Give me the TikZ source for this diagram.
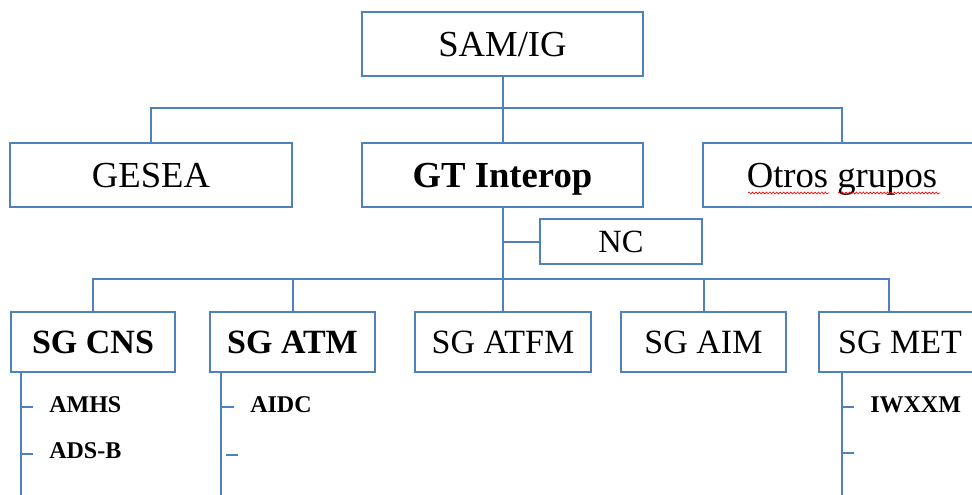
\documentclass[tikz,border=0pt]{standalone}
\usepackage{fontspec}
\setmainfont{Liberation Serif}
\usetikzlibrary{decorations.pathmorphing}
\definecolor{boxblue}{HTML}{4F81BD}

\begin{document}
\begin{tikzpicture}[x=0.75pt, y=-0.75pt,
    box/.style={draw=boxblue, line width=1.5pt, inner sep=0pt, text depth=0pt},
    topbox/.style={box, minimum height=48pt, text height=18.2pt,
      font=\fontsize{27.5}{30}\selectfont},
    subbox/.style={box, minimum height=45pt, text height=16.9pt,
      font=\fontsize{25.5}{28}\selectfont},
    link/.style={draw=boxblue, line width=1.5pt},
    item/.style={anchor=west, inner sep=0pt, font=\fontsize{18}{20}\selectfont\bfseries},
    typo/.style={draw=red, line width=0.5pt, decorate,
      decoration={snake, amplitude=0.7pt, segment length=2.6pt}}]
  \clip (0,0) rectangle (972,495);

  % oben
  \node[topbox, minimum width=210.75pt] (samig) at (502.5,44) {SAM/IG};
  \node[topbox, minimum width=211.5pt] (gesea) at (151,175) {GESEA};
  \node[topbox, minimum width=210.75pt, font=\fontsize{27.5}{30}\selectfont\bfseries]
    (gtinterop) at (502.5,175) {GT Interop};
  \node[topbox, minimum width=208.5pt] (otros) at (842,175) {Otros grupos};
  \node[box, minimum width=121.5pt, minimum height=33.75pt, text height=16pt,
    font=\fontsize{24.3}{26}\selectfont] (nc) at (621,242) {NC};

  % Untergruppen
  \node[subbox, minimum width=123pt, font=\fontsize{25.5}{28}\selectfont\bfseries]
    (sgcns) at (93,342) {SG CNS};
  \node[subbox, minimum width=123.75pt, font=\fontsize{25.5}{28}\selectfont\bfseries]
    (sgatm) at (292.5,342) {SG ATM};
  \node[subbox, minimum width=132pt] (sgatfm) at (503,342) {SG ATFM};
  \node[subbox, minimum width=123.75pt] (sgaim) at (703.5,342) {SG AIM};
  \node[subbox, minimum width=121.5pt] (sgmet) at (900,342) {SG MET};

  \coordinate (busA) at (0,108);
  \coordinate (busB) at (0,279);
  \coordinate (metin) at ([xshift=-8.25pt]sgmet.north);

  \draw[link] (samig.south) -- (gtinterop.north);
  \draw[link] (gesea.north) |- (otros.north |- busA) -- (otros.north);
  \draw[link] (gtinterop.south) -- (gtinterop.south |- sgatfm.north);
  \draw[link] (nc.west) -- (nc.west -| gtinterop.south);
  \draw[link] (sgcns.north) |- (metin |- busB) -- (metin);
  \foreach \n in {sgatm, sgaim}
    \draw[link] (\n.north) -- (\n.north |- busB);

  % Listen
  \draw[link] ([xshift=8.25pt]sgcns.south west) -- ++(0,130);
  \draw[link] ([xshift=9pt]sgatm.south west) -- ++(0,130);
  \draw[link] ([xshift=18pt]sgmet.south west) -- ++(0,130);
  \draw[link] (22,407) -- (33,407);
  \draw[link] (22,454) -- (33,454);
  \draw[link] (222,407) -- (234,407);
  \draw[link] (226,455) -- (238,455);
  \draw[link] (843,407) -- (854,407);
  \draw[link] (843,453) -- (854,453);

  \node[item] (amhs) at (49,405) {AMHS};
  \node[item] (adsb) at (49,451) {ADS-B};
  \node[item] (aidc) at (250,405) {AIDC};
  \node[item] (iwxxm) at (870,405) {IWXXM};

  \draw[typo] (748,193) -- (829,193);
  \draw[typo] (838,193) -- (940,193);
\end{tikzpicture}
\end{document}
